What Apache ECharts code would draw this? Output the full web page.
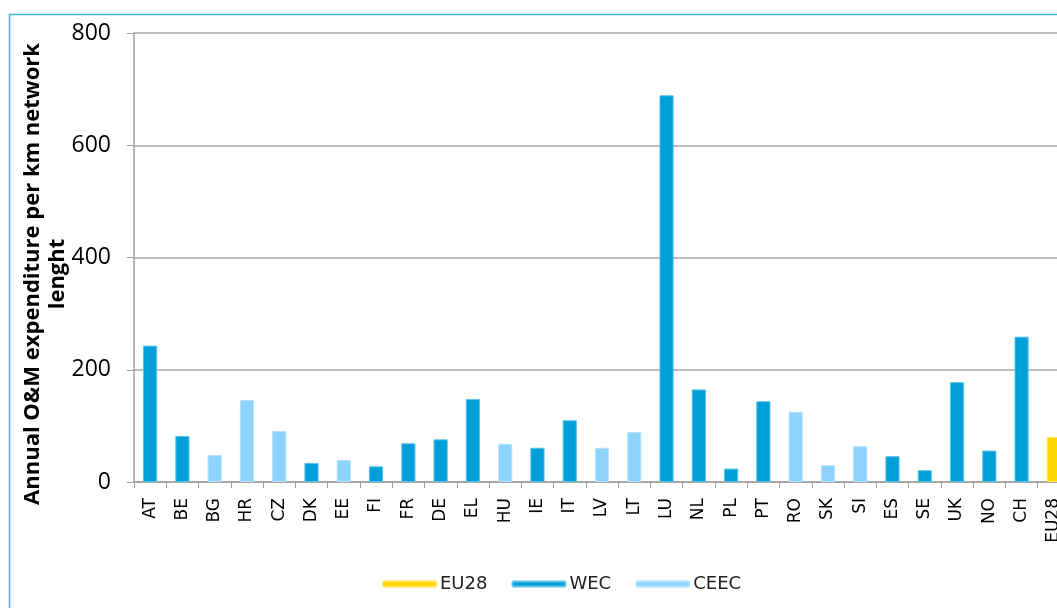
<!DOCTYPE html>
<html>
<head>
<meta charset="utf-8">
<script src="https://cdn.jsdelivr.net/npm/echarts@6/dist/echarts.min.js"></script>
<style>
	html, body { margin: 0; padding: 0; background: #fff; }
	#chart { width: 1057px; height: 608px; }
</style>
</head>
<body>
<div id="chart"></div>
<script>
	// countries on the x axis
	var countries = ['AT', 'BE', 'BG', 'HR', 'CZ', 'DK', 'EE', 'FI', 'FR', 'DE', 'EL', 'HU', 'IE', 'IT',
		'LV', 'LT', 'LU', 'NL', 'PL', 'PT', 'RO', 'SK', 'SI', 'ES', 'SE', 'UK', 'NO', 'CH', 'EU28'];
	// group of each country
	var groups = ['WEC', 'WEC', 'CEEC', 'CEEC', 'CEEC', 'WEC', 'CEEC', 'WEC', 'WEC', 'WEC', 'WEC', 'CEEC', 'WEC', 'WEC',
		'CEEC', 'CEEC', 'WEC', 'WEC', 'WEC', 'WEC', 'CEEC', 'CEEC', 'CEEC', 'WEC', 'WEC', 'WEC', 'WEC', 'WEC', 'EU28'];
	// annual O&M expenditure per km network length
	var values = [243, 82, 48, 146, 91, 34, 39, 28, 69, 76, 148, 68, 61, 110,
		61, 89, 689, 165, 24, 144, 125, 30, 64, 46, 21, 178, 56, 259, 80];
	var yTicks = [0, 200, 400, 600, 800];

	var seriesNames = ['EU28', 'WEC', 'CEEC'];
	var colors = { EU28: '#FFD800', WEC: '#009FDA', CEEC: '#8ED3FF' };
	var borders = { EU28: '#FFE34D', WEC: '#5CC3EC', CEEC: '#B5E2FF' };

	function groupData(name) {
		return values.map(function (v, i) { return groups[i] === name ? v : null; });
	}

	var chart = echarts.init(document.getElementById('chart'));

	var option = {
		animation: false,
		// plot runs past the right edge, the EU28 bar is cut off like in the original
		grid: { left: 134, top: 33, width: 936, height: 449, containLabel: false, outerBoundsMode: 'none' },
		legend: {
			data: seriesNames,
			left: 377,
			top: 570,
			itemWidth: 53,
			itemHeight: 5,
			itemGap: 24,
			icon: 'roundRect',
			textStyle: { fontFamily: 'DejaVu Sans', fontSize: 18, color: '#222', padding: [0, 0, 0, -1] }
		},
		xAxis: {
			type: 'category',
			data: countries,
			axisLine: { lineStyle: { color: '#A0A0A0', width: 1.5 } },
			axisTick: { show: true, length: 6, lineStyle: { color: '#A0A0A0' } },
			axisLabel: {
				rotate: 90,
				margin: 16,
				interval: 0,
				fontFamily: 'DejaVu Sans',
				fontSize: 17,
				color: '#000'
			}
		},
		yAxis: {
			type: 'value',
			min: yTicks[0],
			max: yTicks[yTicks.length - 1],
			interval: 200,
			axisLine: { show: true, lineStyle: { color: '#A0A0A0', width: 1.5 } },
			axisTick: { show: true, length: 7, lineStyle: { color: '#A0A0A0' } },
			splitLine: { lineStyle: { color: '#A6A6A6', width: 1.5 } },
			axisLabel: {
				margin: 23,
				fontFamily: 'Open Sans',
				fontSize: 23,
				color: '#000'
			}
		},
		graphic: [
			{
				type: 'rect',
				shape: { x: 9.5, y: 14.5, width: 1200, height: 800 },
				style: { fill: 'none', stroke: '#3FB2E4', lineWidth: 1.5 },
				silent: true
			},
			{
				type: 'text',
				x: 45,
				y: 274,
				rotation: Math.PI / 2,
				style: {
					text: 'Annual O&M expenditure per km network\nlenght',
					align: 'center',
					verticalAlign: 'middle',
					fontFamily: 'Open Sans',
					fontWeight: 'bold',
					fontSize: 22,
					lineHeight: 25,
					fill: '#000'
				}
			}
		],
		series: seriesNames.map(function (name) {
			return {
				name: name,
				type: 'bar',
				stack: 'all',
				barWidth: '44%',
				itemStyle: { color: colors[name], borderColor: borders[name], borderWidth: 1 },
				data: groupData(name)
			};
		})
	};

	chart.setOption(option);
</script>
</body>
</html>
